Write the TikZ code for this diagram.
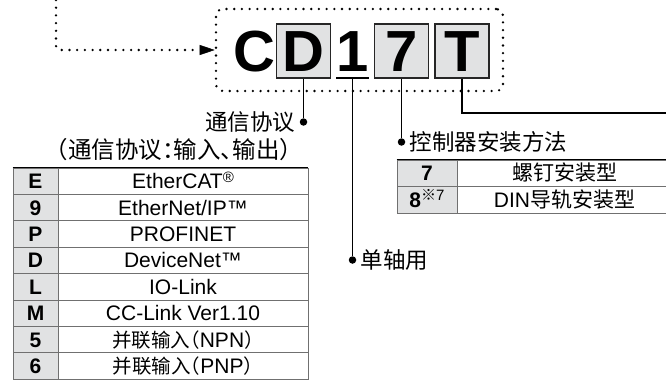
\documentclass[tikz,border=0pt]{standalone}
\usepackage{fontspec}
\setmainfont{Liberation Sans}
\newfontfamily\cjk{Noto Sans CJK SC}
\newfontfamily\cjkhalf{Noto Sans CJK SC}[RawFeature=+halt]
\usetikzlibrary{positioning,arrows.meta}

\definecolor{keygray}{HTML}{E1E2E3}
\definecolor{rulegray}{HTML}{707070}

\newcommand{\bigfont}{\fontsize{58}{58}\selectfont\bfseries}
\newcommand{\headfont}{\fontsize{22.5}{22.5}\selectfont\cjk}
\newcommand{\keyfont}{\fontsize{21}{21}\selectfont\bfseries}
\newcommand{\valfont}{\fontsize{21}{21}\selectfont}
\newcommand{\valcjk}{\fontsize{19.5}{19.5}\selectfont\cjkhalf}

\tikzset{
  letterbox/.style={draw=black!85, line width=1.8pt, fill=keygray, minimum width=54pt, minimum height=54pt, inner sep=0pt, text height=41pt, text depth=0pt, font=\bigfont},
  letterplain/.style={minimum height=54pt, inner sep=0pt, text height=41pt, text depth=0pt, font=\bigfont},
  dotframe/.style={line width=2.6pt, dash pattern=on 0pt off 7.7pt, line cap=round, rounded corners=7pt},
  lead/.style={line width=1.5pt},
  leaddot/.style={circle, fill=black, inner sep=0pt, minimum size=7.5pt},
  keycell/.style={draw=rulegray, line width=0.9pt, fill=keygray, minimum height=26.4pt, inner sep=0pt, text height=15pt, text depth=0pt, font=\keyfont},
  valcell/.style={draw=rulegray, line width=0.9pt, minimum height=26.4pt, inner sep=0pt, text height=15pt, text depth=0pt, font=\valfont},
}

\begin{document}
\begin{tikzpicture}[x=1pt, y=-1pt]
    \useasboundingbox (0,0) rectangle (666,380);

    % Model code
    \node[letterplain] (letC) at (254.5,51) {C};
    \node[letterbox] (boxD) at (303.5,51) {D};
    \node[letterplain, minimum width=30pt] (one) at (352.5,51) {1};
    \draw[lead] (one.south west) -- (one.south east);
    \node[letterbox] (box7) at (401.5,51) {7};
    \node[letterbox] (boxT) at (462,51) {T};

    % Dotted frame and incoming arrow
    \node[dotframe, draw, minimum width=287pt, minimum height=82pt] (frame) at (359.5,50) {};
    \coordinate (feed) at (56,0);
    \draw[dotframe, rounded corners=4pt, -{Triangle[length=15pt, width=10pt, line width=0.5pt]}] (feed) |- (frame.west);

    % Leads
    \node[leaddot] (dotD) at (303.5,122) {};
    \draw[lead] (boxD.south) -- (dotD);
    \node[left=1pt of dotD, font=\headfont] (protocol) {通信协议};
    \node[anchor=east, font=\fontsize{23.5}{23.5}\selectfont\cjkhalf] (protocolsub) at (295,150) {（通信协议：输入、输出）};

    \node[leaddot] (dotAxis) at (352.5,260) {};
    \draw[lead] (one.south) -- (dotAxis);
    \node[right=1pt of dotAxis, font=\headfont] (axis) {单轴用};

    \node[leaddot] (dotMount) at (401.5,142) {};
    \draw[lead] (box7.south) -- (dotMount);
    \node[right=1pt of dotMount, font=\headfont] (mount) {控制器安装方法};

    \coordinate (tEnd) at (670,113);
    \draw[lead] (boxT.south) |- (tEnd);

    % Protocol table
    \node[keycell, minimum width=45pt] (kE) at (35.5,181.2) {E};
    \node[valcell, minimum width=250pt] (vE) at (183,181.2) {EtherCAT\raisebox{0.3em}{\fontsize{15}{15}\selectfont ®}};
    \node[keycell, minimum width=45pt] (k9) at (35.5,207.6) {9};
    \node[valcell, minimum width=250pt] (v9) at (183,207.6) {EtherNet/IP™};
    \node[keycell, minimum width=45pt] (kP) at (35.5,234.0) {P};
    \node[valcell, minimum width=250pt] (vP) at (183,234.0) {PROFINET};
    \node[keycell, minimum width=45pt] (kD) at (35.5,260.4) {D};
    \node[valcell, minimum width=250pt] (vD) at (183,260.4) {DeviceNet™};
    \node[keycell, minimum width=45pt] (kL) at (35.5,286.8) {L};
    \node[valcell, minimum width=250pt] (vL) at (183,286.8) {IO-Link};
    \node[keycell, minimum width=45pt] (kM) at (35.5,313.2) {M};
    \node[valcell, minimum width=250pt] (vM) at (183,313.2) {CC-Link Ver1.10};
    \node[keycell, minimum width=45pt] (k5) at (35.5,339.6) {5};
    \node[valcell, minimum width=250pt] (v5) at (183,339.6) {{\valcjk 并联输入（}NPN{\valcjk ）}};
    \node[keycell, minimum width=45pt] (k6) at (35.5,366.0) {6};
    \node[valcell, minimum width=250pt] (v6) at (183,366.0) {{\valcjk 并联输入（}PNP{\valcjk ）}};
    \draw[line width=1.8pt] (kE.north west) -- (vE.north east);

    % Mounting table
    \node[keycell, minimum width=60pt, minimum height=26.5pt] (k7) at (427,173.25) {7};
    \node[valcell, minimum width=215pt, minimum height=26.5pt] (v7) at (564.5,173.25) {\fontsize{21}{21}\selectfont\cjk 螺钉安装型};
    \node[keycell, minimum width=60pt, minimum height=26.5pt] (k8) at (427,199.75) {8\raisebox{0.3em}{\fontsize{15}{15}\selectfont\mdseries{\cjk ※}7}};
    \node[valcell, minimum width=215pt, minimum height=26.5pt] (v8) at (564.5,199.75) {DIN{\fontsize{21}{21}\selectfont\cjk 导轨安装型}};
    \draw[line width=1.8pt] (k7.north west) -- (v7.north east);
\end{tikzpicture}
\end{document}
